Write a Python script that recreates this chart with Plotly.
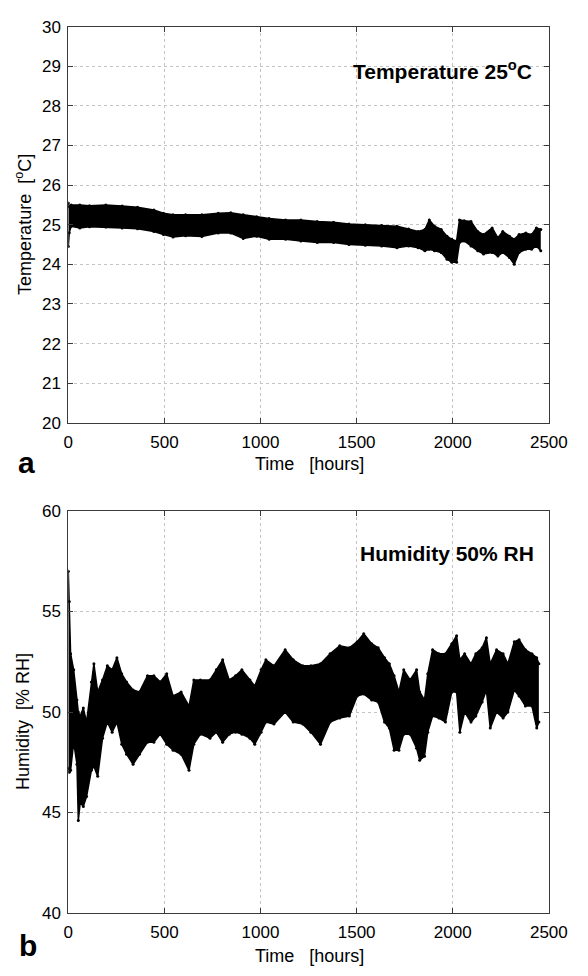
import plotly.graph_objects as go

# ---------------- data ----------------
temp_hours = [0, 5, 15, 60, 110, 195, 280, 360, 445, 495, 545, 610, 695, 780, 845,
              910, 980, 1045, 1130, 1210, 1295, 1380, 1460, 1545, 1630, 1710, 1770,
              1820, 1855, 1878, 1905, 1940, 1970, 1995, 2020, 2035, 2060, 2095, 2130,
              2160, 2205, 2235, 2260, 2295, 2320, 2345, 2380, 2410, 2435, 2458]
temp_upper = [25.55, 25.45, 25.5, 25.5, 25.48, 25.5, 25.47, 25.44, 25.37, 25.29, 25.25,
              25.25, 25.25, 25.29, 25.3, 25.25, 25.2, 25.16, 25.12, 25.12, 25.08, 25.06,
              25.02, 25.0, 24.98, 24.96, 24.89, 24.83, 24.88, 25.12, 24.96, 24.88, 24.71,
              24.63, 24.59, 25.12, 25.1, 25.08, 24.83, 24.75, 24.92, 24.67, 24.83, 24.71,
              24.63, 24.75, 24.79, 24.75, 24.92, 24.88]
temp_lower = [24.45, 24.8, 24.96, 24.92, 24.95, 24.94, 24.92, 24.9, 24.83, 24.75, 24.69,
              24.72, 24.7, 24.79, 24.79, 24.65, 24.71, 24.63, 24.63, 24.59, 24.55, 24.55,
              24.5, 24.48, 24.46, 24.42, 24.46, 24.42, 24.34, 24.38, 24.34, 24.3, 24.13,
              24.05, 24.05, 24.55, 24.59, 24.46, 24.34, 24.26, 24.3, 24.21, 24.3, 24.17,
              24.0, 24.3, 24.38, 24.38, 24.46, 24.34]

hum_hours = [0, 5, 12, 28, 45, 52, 62, 78, 95, 120, 133, 153, 178, 203, 228, 253, 278,
             303, 337, 370, 412, 445, 478, 512, 545, 587, 628, 653, 687, 737, 770, 803,
             837, 870, 903, 945, 970, 1003, 1028, 1070, 1128, 1170, 1220, 1262, 1312,
             1362, 1412, 1462, 1503, 1537, 1578, 1612, 1645, 1670, 1695, 1720, 1745,
             1778, 1812, 1828, 1853, 1870, 1895, 1928, 1962, 1995, 2020, 2037, 2062,
             2095, 2120, 2153, 2175, 2195, 2228, 2262, 2287, 2320, 2345, 2378, 2412,
             2437, 2448]
hum_upper = [57.0, 55.5, 52.9, 52.1, 50.6, 50.0, 49.8, 50.2, 49.5, 51.5, 52.4, 51.0,
             51.6, 52.3, 52.1, 52.7, 51.9, 51.5, 51.1, 51.0, 51.8, 51.8, 51.5, 51.9,
             50.8, 51.0, 50.3, 51.6, 51.6, 51.6, 52.1, 52.6, 51.6, 51.8, 52.1, 51.6,
             51.3, 52.1, 52.6, 52.3, 53.1, 52.6, 52.3, 52.3, 52.4, 52.9, 53.3, 53.2,
             53.5, 53.9, 53.4, 53.2, 52.7, 52.4, 51.8, 51.0, 52.1, 51.6, 52.1, 51.0,
             50.6, 51.9, 53.1, 52.9, 52.9, 53.4, 53.8, 52.6, 52.9, 52.4, 52.9, 53.2,
             53.7, 52.4, 53.1, 52.9, 52.4, 53.5, 53.6, 53.1, 52.9, 52.7, 52.4]
hum_lower = [47.2, 47.0, 47.1, 48.5, 47.4, 44.6, 45.5, 45.3, 45.8, 47.1, 47.3, 46.8,
             48.7, 49.5, 49.0, 49.5, 48.4, 47.9, 47.4, 47.9, 48.5, 48.5, 48.9, 48.4,
             48.1, 47.9, 47.1, 48.4, 48.9, 48.7, 49.0, 48.5, 48.9, 49.0, 48.9, 48.7,
             48.4, 49.0, 49.5, 49.4, 50.0, 49.5, 49.4, 49.0, 48.4, 49.5, 49.7, 49.8,
             50.8, 50.9, 50.6, 50.5, 49.5, 49.2, 48.1, 48.1, 48.9, 48.9, 48.2, 47.6,
             47.8, 49.0, 49.8, 49.7, 49.5, 51.0, 51.0, 49.0, 50.0, 49.5, 49.8, 50.5,
             51.1, 49.2, 50.0, 49.7, 50.0, 51.1, 50.8, 50.3, 50.3, 49.2, 49.5]

x_ticks = [0, 500, 1000, 1500, 2000, 2500]
temp_ticks = [20, 21, 22, 23, 24, 25, 26, 27, 28, 29, 30]
hum_ticks = [40, 45, 50, 55, 60]

# ---------------- figure ----------------
W, H = 588, 976
FONT = "Liberation Sans, Arial, Helvetica, sans-serif"


def px(x):
    return x / W


def py(y):
    return 1 - y / H


fig = go.Figure()


def add_band(hours, lo, hi, xa, ya):
    fig.add_trace(go.Scatter(x=hours, y=lo, mode="lines+markers", xaxis=xa, yaxis=ya,
                             line=dict(color="black", width=1.5),
                             marker=dict(color="black", size=3),
                             showlegend=False, hoverinfo="skip"))
    fig.add_trace(go.Scatter(x=hours, y=hi, mode="lines+markers", xaxis=xa, yaxis=ya,
                             fill="tonexty", fillcolor="black",
                             line=dict(color="black", width=1.5),
                             marker=dict(color="black", size=3),
                             showlegend=False, hoverinfo="skip"))


add_band(temp_hours, temp_lower, temp_upper, "x", "y")
add_band(hum_hours, hum_lower, hum_upper, "x2", "y2")

x_dom = [px(66), px(567)]
axis_common = dict(showline=True, mirror="ticks", linecolor="#3a3a3a", linewidth=1,
                   ticks="inside", ticklen=5, tickcolor="#3a3a3a",
                   showgrid=True, gridcolor="#c4c4c4", griddash="dot", gridwidth=1,
                   zeroline=False, tickfont=dict(family=FONT, size=17, color="black"))

fig.update_layout(
    width=W, height=H, margin=dict(l=0, r=0, t=0, b=0),
    paper_bgcolor="white", plot_bgcolor="white",
    xaxis=dict(domain=x_dom, range=[0, 2500], tickvals=x_ticks, anchor="y",
               ticklabelstandoff=4, **axis_common),
    yaxis=dict(domain=[py(422), py(18)], range=[20, 30], tickvals=temp_ticks,
               anchor="x", ticklabelstandoff=3, **axis_common),
    xaxis2=dict(domain=x_dom, range=[0, 2500], tickvals=x_ticks, anchor="y2",
                ticklabelstandoff=4, **axis_common),
    yaxis2=dict(domain=[py(922), py(512)], range=[40, 60], tickvals=hum_ticks,
                anchor="x2", ticklabelstandoff=3, **axis_common),
)

ann = []
ann.append(dict(text="<b>Temperature 25<sup>o</sup>C</b>", x=px(551), y=py(62),
                xanchor="right", yanchor="middle",
                font=dict(family=FONT, size=21, color="black"),
                showarrow=False, xref="paper", yref="paper"))
ann.append(dict(text="<b>Humidity 50% RH</b>", x=px(554), y=py(555), xanchor="right",
                yanchor="middle", font=dict(family=FONT, size=21, color="black"),
                showarrow=False, xref="paper", yref="paper"))
for yc in (464, 966):
    ann.append(dict(text="Time   [hours]", x=px(317), y=py(yc), xanchor="center",
                    yanchor="middle", font=dict(family=FONT, size=18, color="black"),
                    showarrow=False, xref="paper", yref="paper"))
ann.append(dict(text="Temperature  [<sup>o</sup>C]", x=px(20), y=py(220), textangle=-90,
                xanchor="center", yanchor="middle",
                font=dict(family=FONT, size=18, color="black"),
                showarrow=False, xref="paper", yref="paper"))
ann.append(dict(text="Humidity  [% RH]", x=px(19), y=py(727), textangle=-90,
                xanchor="center", yanchor="middle",
                font=dict(family=FONT, size=18, color="black"),
                showarrow=False, xref="paper", yref="paper"))
ann.append(dict(text="<b>a</b>", x=px(22), y=py(462), xanchor="center", yanchor="middle",
                font=dict(family=FONT, size=30, color="black"),
                showarrow=False, xref="paper", yref="paper"))
ann.append(dict(text="<b>b</b>", x=px(24), y=py(955), xanchor="center", yanchor="middle",
                font=dict(family=FONT, size=30, color="black"),
                showarrow=False, xref="paper", yref="paper"))
fig.update_layout(annotations=ann)

fig.write_html("out.html")
